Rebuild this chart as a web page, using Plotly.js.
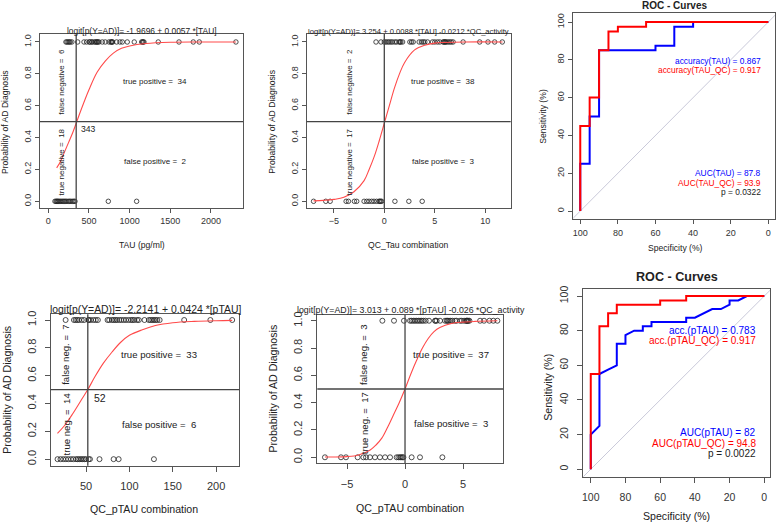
<!DOCTYPE html>
<html><head><meta charset="utf-8">
<script src="https://cdn.plot.ly/plotly-3.0.1.min.js"></script>
<style>html,body{margin:0;padding:0;background:#fff;}#chart{width:778px;height:523px;}</style>
</head><body><div id="chart"></div>
<script>
// ---------- DATA ----------
// Panel A: TAU (pg/ml)
const tauCases = [217,230,245,258,270,290, 361,439,471,504,510,533,540,566,580,594,600,610,623,664,700,746,770,775,785,791,840,881,910,971,1057,1148,1160,1165,1176,1352,1607,1783,1857,2307];
const tauControls = [82,95,105,115,125,140,155,170,185,200,215,230,250,265,280,300,315,328,738,1086];
const tauCurveX = [103,150,200,250,300,343,400,500,600,700,800,900,1000,1200,1500,1800,2307];
const tauCurveY = [0.21,0.25,0.31,0.37,0.43,0.49,0.57,0.70,0.81,0.88,0.93,0.96,0.975,0.99,0.998,1.0,1.0];
const tauCut = 343;
const tauTitle = 'logit[p(Y=AD)]= -1.9696 + 0.0057 *[TAU]';
const tauCounts = {tp:34, fp:2, fn:6, tn:18};

// Panel B: QC_Tau combination
const qtCases = [-0.82,-0.33, 0.0,0.16,0.33,0.49,0.66,0.82,1.05,1.22,1.48,1.55,1.64,1.81,2.53,2.70,2.86,3.45,3.68,3.85,4.01,4.28,4.77,5.0,5.26,5.49,5.82,5.9,5.99,6.05,6.15,6.32,6.48,6.64,6.81,7.80,9.44,10.26,10.92,11.68];
const qtControls = [-7.0,-5.79,-5.36,-3.78,-3.55,-2.96,-2.73,-2.0,-1.74,-1.51,-1.25,-1.02,-0.76,-0.53,-0.45,-0.36,-0.26,1.05,2.43,3.75];
const qtCurveX = [-7,-6,-5,-4,-3,-2,-1.5,-1,-0.5,0,0.5,1,1.5,2,3,4,5,6,8,11.7];
const qtCurveY = [0.003,0.006,0.012,0.025,0.06,0.13,0.20,0.28,0.38,0.49,0.60,0.71,0.80,0.87,0.95,0.98,0.993,0.997,1.0,1.0];
const qtCut = 0;
const qtTitle = 'logit[p(Y=AD)]= 3.254 + 0.0088 *[TAU] -0.0212 *QC_activity';

// Panel C: ROC TAU vs TAU_QC
const rocTauSpec = [100,100,95,95,90,90,60,60,50,50,40,40,0];
const rocTauSens = [0,25,25,50,50,85,85,87.5,87.5,97.5,97.5,100,100];
const rocTauQcSpec = [100,100,95,95,90,90,85,85,80,80,65,65,0];
const rocTauQcSens = [0,45,45,60,60,85,85,95,95,97.5,97.5,100,100];

// Panel D: pTAU (QC_pTAU combination, single)
const ptCases = [26.4,36.0,38.0,39.9,41.9,45.0,47.7, 52.7,53,55.4,58.5,61.2,63.6,74.8,76.7,79.8,81.8,83.7,85.7,88.4,90.7,93.4,96.1,99.2,101.9,103.9,105.8,108.9,110.9,117.4,122.5,124.4,126.4,128.3,130.2,132.2,134.9,163.2,193.4,218.6];
const ptControls = [17.1,20.5,23.6,26.7,29.5,32.6,35.3,38.4,40.3,42.2,44.2,46.1,48.1,50.0,53,54.5,65.5,81.8,87.6,128.3];
const ptCurveX = [17,25,35,45,52,60,70,80,90,100,115,130,150,175,200,218.6];
const ptCurveY = [0.186,0.24,0.33,0.43,0.50,0.59,0.69,0.77,0.84,0.89,0.93,0.96,0.98,0.99,0.995,0.997];
const ptCut = 52;
const ptTitle = 'logit[p(Y=AD)]= -2.2141 + 0.0424 *[pTAU]';

// Panel E: QC_pTAU combination
const qpCases = [-1.95,-0.95,-0.09, 0.43,0.57,0.72,0.86,1.01,1.15,1.29,1.44,1.58,1.78,2.07,2.59,2.62,2.73,3.02,3.45,3.60,3.68,3.79,3.94,4.08,4.31,4.45,4.74,4.89,5.09,5.26,5.30,5.35,5.40,5.45,5.55,6.47,6.81,7.27,7.61,7.96];
const qpControls = [-6.90,-5.52,-5.09,-4.08,-3.59,-3.36,-3.02,-2.59,-2.16,-1.72,-1.29,-0.72,-0.57,-0.43,-0.34,-0.23,-0.14,0.57,1.29,3.22];
const qpCurveX = [-6.9,-5,-4,-3,-2.5,-2,-1.5,-1,-0.5,0,0.5,1,1.5,2,2.5,3,4,5,6,7.96];
const qpCurveY = [0.002,0.005,0.017,0.054,0.09,0.14,0.22,0.31,0.40,0.50,0.61,0.71,0.80,0.87,0.92,0.95,0.98,0.99,0.995,1.0];
const qpCut = 0;
const qpTitle = 'logit[p(Y=AD)]= 3.013 + 0.089 *[pTAU] -0.026 *QC_activity';

// Panel F: ROC pTAU vs pTAU_QC
const rocPtSpec = [100,100,95,95,90,85,85,80,80,75,70,70,65,65,45,45,40,35,30,25,20,20,15,10,0];
const rocPtSens = [0,20,25,55,57.5,60,72.5,72.5,77.5,80,80,82.5,82.5,85,85,87.5,87.5,90,92.5,92.5,95,97.5,97.5,100,100];
const rocPtQcSpec = [100,100,95,95,90,90,85,85,60,60,45,45,0];
const rocPtQcSens = [0,55,55,82.5,82.5,90,90,95,95,97.5,97.5,100,100];

// ---------- LAYOUT HELPERS ----------
const W = 778, H = 523;
const FONT = 'Liberation Sans, Arial, Helvetica, sans-serif';
const xd = (a, b) => [a / W, b / W];
const yd = (top, bot) => [1 - bot / H, 1 - top / H];
const TXT = '#222';

function axis(dom, range, tv, fs, anchor, tl, extra) {
  return Object.assign({
    domain: dom, range: range, tickvals: tv, anchor: anchor,
    showline: true, mirror: true, linecolor: '#555', linewidth: 1,
    ticks: 'outside', ticklen: tl, tickcolor: '#555', tickwidth: 1,
    showgrid: false, zeroline: false, fixedrange: true,
    tickfont: {family: FONT, size: fs, color: '#333'}
  }, extra || {});
}
const yTicks = [0, 0.2, 0.4, 0.6, 0.8, 1.0];
const rocTicks = [0, 20, 40, 60, 80, 100];

function ann(px, py, text, fs, opts) {
  return Object.assign({xref: 'paper', yref: 'paper', x: px / W, y: 1 - py / H, text: text,
    showarrow: false, xanchor: 'center', yanchor: 'middle',
    font: {family: FONT, size: fs, color: TXT}}, opts || {});
}
function dann(xr, yr, x, y, text, fs, opts) {
  return Object.assign({xref: xr, yref: yr, x: x, y: y, text: text, showarrow: false,
    xanchor: 'center', yanchor: 'middle', font: {family: FONT, size: fs, color: TXT}}, opts || {});
}

const ones = a => a.map(() => 1);
const zeros = a => a.map(() => 0);
function pts(xs, ys, xa, ya, sz) {
  return {x: xs, y: ys, xaxis: xa, yaxis: ya, type: 'scatter', mode: 'markers', hoverinfo: 'skip',
    marker: {symbol: 'circle-open', size: sz, color: '#222', line: {width: 0.8}}};
}
function curve(xs, ys, xa, ya) {
  return {x: xs, y: ys, xaxis: xa, yaxis: ya, type: 'scatter', mode: 'lines', hoverinfo: 'skip',
    line: {color: '#ff4a4a', width: 1.1, shape: 'spline'}};
}
function roc(xs, ys, xa, ya, col) {
  return {x: xs, y: ys, xaxis: xa, yaxis: ya, type: 'scatter', mode: 'lines', hoverinfo: 'skip',
    line: {color: col, width: 2}};
}

const traces = [
  pts(tauCases, ones(tauCases), 'x', 'y', 4.5),
  pts(tauControls, zeros(tauControls), 'x', 'y', 4.5),
  curve(tauCurveX, tauCurveY, 'x', 'y'),
  pts(qtCases, ones(qtCases), 'x2', 'y2', 4.5),
  pts(qtControls, zeros(qtControls), 'x2', 'y2', 4.5),
  curve(qtCurveX, qtCurveY, 'x2', 'y2'),
  roc(rocTauSpec, rocTauSens, 'x3', 'y3', '#0000ff'),
  roc(rocTauQcSpec, rocTauQcSens, 'x3', 'y3', '#ff0000'),
  pts(ptCases, ones(ptCases), 'x4', 'y4', 5),
  pts(ptControls, zeros(ptControls), 'x4', 'y4', 5),
  curve(ptCurveX, ptCurveY, 'x4', 'y4'),
  pts(qpCases, ones(qpCases), 'x5', 'y5', 5),
  pts(qpControls, zeros(qpControls), 'x5', 'y5', 5),
  curve(qpCurveX, qpCurveY, 'x5', 'y5'),
  roc(rocPtSpec, rocPtSens, 'x6', 'y6', '#0000ff'),
  roc(rocPtQcSpec, rocPtQcSens, 'x6', 'y6', '#ff0000')
];

function cutLines(xr, yr, c) {
  return [
    {type: 'line', xref: xr, yref: yr + ' domain', x0: c, x1: c, y0: 0, y1: 1, line: {color: '#444', width: 1.3}},
    {type: 'line', xref: xr + ' domain', yref: yr, x0: 0, x1: 1, y0: 0.5, y1: 0.5, line: {color: '#444', width: 1.3}}
  ];
}
const chance = (xr, yr) => ({type: 'line', xref: xr, yref: yr, x0: 110, y0: -10, x1: -10, y1: 110,
  line: {color: '#c9c9d9', width: 1}, layer: 'below'});

const yfmt = {tickformat: '.1f', tickangle: -90};
const rocF = (col) => ({xanchor: 'right', borderpad: 0, font: {family: FONT, size: 10, color: col}});
const layout = {
  width: W, height: H, margin: {l: 0, r: 0, t: 0, b: 0},
  paper_bgcolor: '#fff', plot_bgcolor: '#fff', showlegend: false,
  font: {family: FONT, color: TXT},
  xaxis:  axis(xd(40, 243), [-102, 2394], [0, 500, 1000, 1500, 2000], 9, 'y', 4),
  yaxis:  axis(yd(34, 208), [-0.042, 1.05], yTicks, 9, 'x', 4, yfmt),
  xaxis2: axis(xd(306.7, 510.7), [-7.68, 12.51], [-5, 0, 5, 10], 9, 'y2', 4),
  yaxis2: axis(yd(34, 208), [-0.042, 1.05], yTicks, 9, 'x2', 4, yfmt),
  xaxis3: axis(xd(573.3, 775.3), [103.7, -3.7], rocTicks, 9, 'y3', 4, {ticklabelstandoff: 1}),
  yaxis3: axis(yd(13.3, 219), [-4.2, 104.6], rocTicks, 9, 'x3', 4, {tickangle: -90, ticklabelstandoff: 1}),
  xaxis4: axis(xd(50.7, 239.3), [9.2, 226.8], [50, 100, 150, 200], 11, 'y4', 5, {ticklabelstandoff: 5}),
  yaxis4: axis(yd(314.3, 465.7), [-0.047, 1.041], yTicks, 11, 'x4', 5, Object.assign({ticklabelstandoff: 4}, yfmt)),
  xaxis5: axis(xd(317.3, 503.3), [-7.56, 8.47], [-5, 0, 5], 11, 'y5', 5, {ticklabelstandoff: 5}),
  yaxis5: axis(yd(315, 463.3), [-0.044, 1.042], yTicks, 11, 'x5', 5, Object.assign({ticklabelstandoff: 5}, yfmt)),
  xaxis6: axis(xd(583.3, 770), [104.3, -3.3], rocTicks, 10.5, 'y6', 5, {ticklabelstandoff: 6}),
  yaxis6: axis(yd(289.3, 476.7), [-4.3, 103.9], rocTicks, 10.5, 'x6', 5, {tickangle: -90, ticklabelstandoff: 5}),
  shapes: [].concat(cutLines('x', 'y', tauCut), cutLines('x2', 'y2', qtCut),
    cutLines('x4', 'y4', ptCut), cutLines('x5', 'y5', qpCut),
    [chance('x3', 'y3'), chance('x6', 'y6')]),
  annotations: [
    // titles
    ann(141.5, 30.5, tauTitle, 8.4),
    ann(408.5, 31, qtTitle, 7.6),
    ann(674.5, 5.5, '<b>ROC - Curves</b>', 10),
    ann(145, 309, ptTitle, 10.4),
    ann(411, 310, qpTitle, 8.8),
    ann(676.7, 276.7, '<b>ROC - Curves</b>', 12.6),
    // axis titles
    ann(142, 245, 'TAU (pg/ml)', 8.6),
    ann(5, 122, 'Probability of AD Diagnosis', 8.6, {textangle: -90}),
    ann(408.3, 245, 'QC_Tau combination', 8.6),
    ann(271.7, 122, 'Probability of AD Diagnosis', 8.6, {textangle: -90}),
    ann(675, 248, 'Specificity (%)', 8.6),
    ann(542.7, 116, 'Sensitivity (%)', 8.6, {textangle: -90}),
    ann(144, 509.3, 'QC_pTAU combination', 10.6),
    ann(6.7, 390, 'Probability of AD Diagnosis', 10.6, {textangle: -90}),
    ann(410, 508.3, 'QC_pTAU combination', 10.6),
    ann(273.3, 388.3, 'Probability of AD Diagnosis', 10.6, {textangle: -90}),
    ann(676.7, 516, 'Specificity (%)', 10.6),
    ann(547.3, 387.5, 'Sensitivity (%)', 10.6, {textangle: -90}),
    // panel A texts
    dann('x', 'y', 1312, 0.75, 'true positive =  ' + tauCounts.tp, 8),
    dann('x', 'y', 1312, 0.25, 'false positive =  ' + tauCounts.fp, 8),
    dann('x', 'y', 168, 0.75, 'false negative =  ' + tauCounts.fn, 8, {textangle: -90}),
    dann('x', 'y', 168, 0.25, 'true negative =  ' + tauCounts.tn, 8, {textangle: -90}),
    dann('x', 'y', tauCut, 0.5, String(tauCut), 8.6, {xanchor: 'left', yanchor: 'top', xshift: 3, yshift: 0}),
    // panel B texts
    dann('x2', 'y2', 5.81, 0.75, 'true positive =  38', 8),
    dann('x2', 'y2', 5.81, 0.25, 'false positive =  3', 8),
    dann('x2', 'y2', -3.4, 0.75, 'false negative =  2', 8, {textangle: -90}),
    dann('x2', 'y2', -3.4, 0.25, 'true negative =  17', 8, {textangle: -90}),
    // panel C texts
    dann('x3', 'y3', 2.8, 79.6, 'accuracy(TAU) = 0.867', 8.4, {xanchor: 'right', font: {family: FONT, size: 8.4, color: '#0000ff'}}),
    dann('x3', 'y3', 2.8, 74.8, 'accuracy(TAU_QC) = 0.917', 8.4, {xanchor: 'right', font: {family: FONT, size: 8.4, color: '#ff0000'}}),
    dann('x3', 'y3', 2.8, 20, 'AUC(TAU) = 87.8', 8.4, {xanchor: 'right', font: {family: FONT, size: 8.4, color: '#0000ff'}}),
    dann('x3', 'y3', 2.8, 14.8, 'AUC(TAU_QC) = 93.9', 8.4, {xanchor: 'right', font: {family: FONT, size: 8.4, color: '#ff0000'}}),
    dann('x3', 'y3', 2.8, 9.9, 'p = 0.0322', 8.4, {xanchor: 'right'}),
    // panel D texts
    dann('x4', 'y4', 134, 0.75, 'true positive =  33', 9.6),
    dann('x4', 'y4', 134, 0.25, 'false positive =  6', 9.6),
    dann('x4', 'y4', 26.9, 0.75, 'false neg. =  7', 9.6, {textangle: -90}),
    dann('x4', 'y4', 26.9, 0.25, 'true neg. =  14', 9.6, {textangle: -90}),
    dann('x4', 'y4', ptCut, 0.5, String(ptCut), 10.5, {xanchor: 'left', yanchor: 'top', xshift: 4}),
    // panel E texts
    dann('x5', 'y5', 3.97, 0.75, 'true positive =  37', 9.6),
    dann('x5', 'y5', 3.97, 0.25, 'false positive =  3', 9.6),
    dann('x5', 'y5', -3.53, 0.75, 'false neg. =  3', 9.6, {textangle: -90}),
    dann('x5', 'y5', -3.53, 0.25, 'true neg. =  17', 9.6, {textangle: -90}),
    // panel F texts
    dann('x6', 'y6', 4.2, 80.2, 'acc.(pTAU) = 0.783', 10, rocF('#0000ff')),
    dann('x6', 'y6', 4.2, 74.3, 'acc.(pTAU_QC) = 0.917', 10, rocF('#ff0000')),
    dann('x6', 'y6', 4.2, 21.0, 'AUC(pTAU) = 82', 10, rocF('#0000ff')),
    dann('x6', 'y6', 4.2, 15.1, 'AUC(pTAU_QC) = 94.8', 10, rocF('#ff0000')),
    dann('x6', 'y6', 4.2, 9.0, 'p = 0.0022', 10, rocF('#222'))
  ]
};

Plotly.newPlot('chart', traces, layout, {displayModeBar: false, staticPlot: true});
</script></body></html>
